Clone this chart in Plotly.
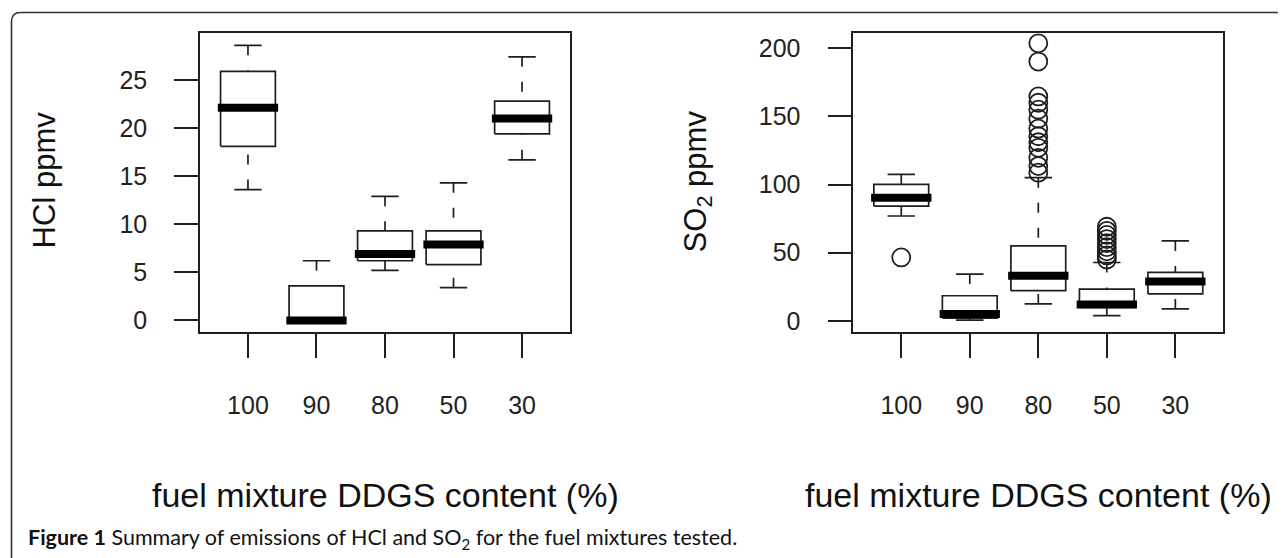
import plotly.graph_objects as go

# fuel mixture DDGS content (%)
categories = ["100", "90", "80", "50", "30"]

# HCl ppmv box statistics
hcl_low = [13.6, 0.0, 5.2, 3.4, 16.7]
hcl_q1 = [18.1, 0.0, 6.2, 5.8, 19.4]
hcl_median = [22.1, 0.0, 6.9, 7.9, 21.0]
hcl_q3 = [25.9, 3.6, 9.3, 9.3, 22.8]
hcl_high = [28.6, 6.2, 12.9, 14.3, 27.4]
hcl_outliers = [[], [], [], [], []]

# SO2 ppmv box statistics
so2_low = [76.9, 0.5, 12.4, 3.8, 8.7]
so2_q1 = [84.2, 2.0, 22.1, 9.9, 19.7]
so2_median = [90.3, 5.0, 33.0, 11.9, 28.9]
so2_q3 = [100.1, 18.4, 55.0, 23.3, 35.5]
so2_high = [107.4, 34.3, 105.0, 42.8, 58.6]
so2_outliers = [
    [46.5],
    [],
    [108.7, 113.5, 119.6, 126.9, 131.0, 135.4, 141.0, 148.3, 154.9, 160.0, 164.6, 190.2, 203.6],
    [45.0, 48.0, 51.0, 54.0, 57.0, 60.0, 63.0, 66.0, 69.0],
    [],
]

W, H = 1286, 558
OFF = 8  # the page body margin shifts the figure by this much
INK = "#1e1e1e"
FONT = "Liberation Sans, Arial, sans-serif"


def px(x):
    return (x - OFF) / W


def py(y):
    return 1 - (y - OFF) / H


def add_boxes(fig, xa, ya, low, q1, med, q3, high, outliers):
    bx, by, wx, wy, sx, sy, ox, oy = [], [], [], [], [], [], [], []
    for i in range(len(categories)):
        p = i + 1
        bx += [p - 0.4, p + 0.4, p + 0.4, p - 0.4, p - 0.4, None]
        by += [q1[i], q1[i], q3[i], q3[i], q1[i], None]
        wx += [p, p, None, p, p, None]
        wy += [high[i], q3[i], None, low[i], q1[i], None]
        sx += [p - 0.2, p + 0.2, None, p - 0.2, p + 0.2, None]
        sy += [high[i], high[i], None, low[i], low[i], None]
        ox += [p] * len(outliers[i])
        oy += outliers[i]
    common = dict(xaxis=xa, yaxis=ya, showlegend=False, hoverinfo="skip")
    fig.add_trace(go.Scatter(x=wx, y=wy, mode="lines",
                             line=dict(color=INK, width=1.7, dash="10px,15px"), **common))
    fig.add_trace(go.Scatter(x=sx, y=sy, mode="lines",
                             line=dict(color=INK, width=1.7), **common))
    fig.add_trace(go.Scatter(x=bx, y=by, mode="lines",
                             line=dict(color=INK, width=1.7), **common))
    for i in range(len(categories)):
        p = i + 1
        fig.add_trace(go.Scatter(x=[p - 0.44, p + 0.44], y=[med[i], med[i]], mode="lines",
                                 line=dict(color="black", width=8), **common))
    if ox:
        fig.add_trace(go.Scatter(x=ox, y=oy, mode="markers",
                                 marker=dict(symbol="circle-open", size=18, color=INK,
                                             line=dict(width=1.8, color=INK)), **common))


fig = go.Figure()
add_boxes(fig, "x", "y", hcl_low, hcl_q1, hcl_median, hcl_q3, hcl_high, hcl_outliers)
add_boxes(fig, "x2", "y2", so2_low, so2_q1, so2_median, so2_q3, so2_high, so2_outliers)

xcommon = dict(range=[0.3, 5.7], tickvals=[1, 2, 3, 4, 5], ticktext=categories,
               ticks="outside", ticklen=24, tickwidth=1.6, tickcolor=INK,
               showline=True, mirror=True, linewidth=1.6, linecolor=INK,
               showgrid=False, zeroline=False, ticklabelstandoff=26,
               tickfont=dict(family=FONT, size=25, color="#222"))
ycommon = dict(ticks="outside", ticklen=24, tickwidth=1.6, tickcolor=INK,
               showline=True, mirror=True, linewidth=1.6, linecolor=INK,
               showgrid=False, zeroline=False, ticklabelstandoff=22,
               tickfont=dict(family=FONT, size=25, color="#222"))

fig.update_layout(
    width=W, height=H,
    margin=dict(l=0, r=0, t=0, b=0),
    paper_bgcolor="white", plot_bgcolor="white",
    xaxis=dict(domain=[px(200), px(570)], anchor="y", **xcommon),
    yaxis=dict(domain=[py(333.3), py(33.3)], anchor="x", range=[-1.22, 29.86],
               tickvals=[0, 5, 10, 15, 20, 25], **ycommon),
    xaxis2=dict(domain=[px(853.3), px(1223.3)], anchor="y2", **xcommon),
    yaxis2=dict(domain=[py(333.3), py(33.3)], anchor="x2", range=[-8.3, 211],
                tickvals=[0, 50, 100, 150, 200], **ycommon),
)

title_font = dict(family=FONT, size=34, color="#111")
label_font = dict(family=FONT, size=31, color="#111")
center = dict(xref="paper", yref="paper", xanchor="center", yanchor="middle", showarrow=False)
fig.add_annotation(x=px(44), y=py(181), text="HCl ppmv", textangle=-90, font=label_font, **center)
fig.add_annotation(x=px(698), y=py(182), text="SO<sub>2</sub> ppmv", textangle=-90,
                   font=label_font, **center)
fig.add_annotation(x=px(385), y=py(497), text="fuel mixture DDGS content (%)",
                   font=title_font, **center)
fig.add_annotation(x=px(1038), y=py(497), text="fuel mixture DDGS content (%)",
                   font=title_font, **center)

# caption
fig.add_annotation(x=px(26), y=py(540), xref="paper", yref="paper", xanchor="left",
                   yanchor="middle", showarrow=False,
                   text="<b>Figure 1</b> Summary of emissions of HCl and SO<sub>2</sub> for the fuel mixtures tested.",
                   font=dict(family="Lato, sans-serif", size=21.5, color="#111"))

# rounded frame around the figure panel
x0, y0, r = 11.5, 12.5, 9
path = (f"M {px(x0)},{py(620)} L {px(x0)},{py(y0 + r)} "
        f"Q {px(x0)},{py(y0)} {px(x0 + r)},{py(y0)} L {px(1320)},{py(y0)}")
fig.add_shape(type="path", xref="paper", yref="paper", path=path,
              line=dict(color="#333", width=1.6))

fig.write_html("out.html")
